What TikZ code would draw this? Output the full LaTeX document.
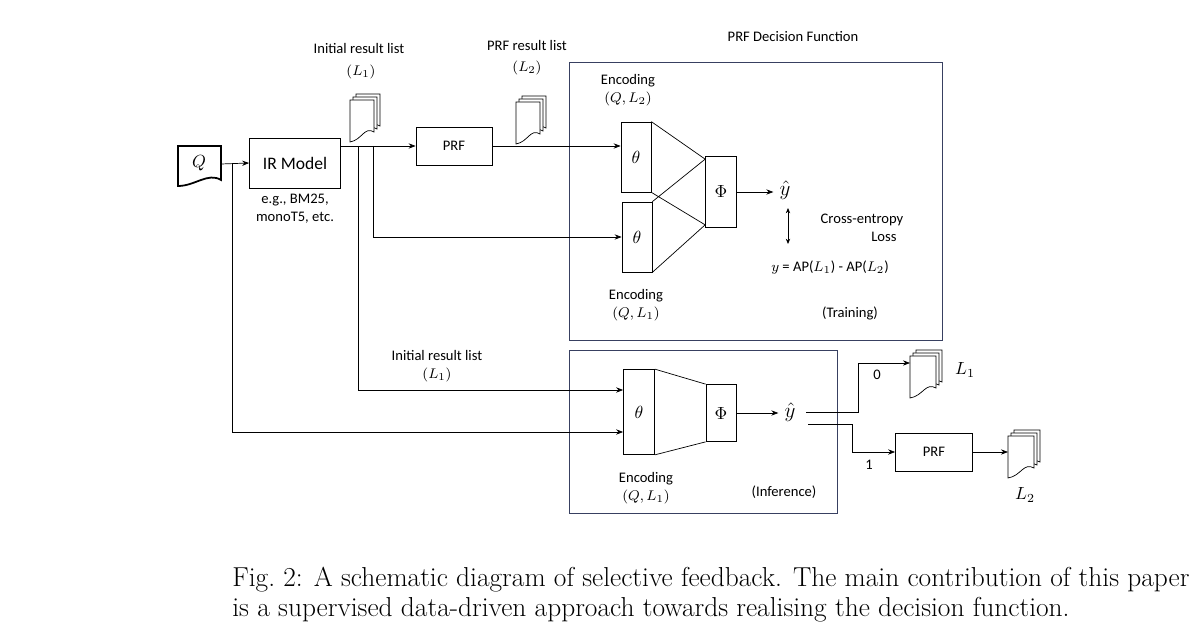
\documentclass[tikz,border=0pt]{standalone}
\usepackage{fontspec}
\setmainfont{Carlito}
\newfontfamily\capfont{Latin Modern Roman}
\usetikzlibrary{arrows.meta}
\definecolor{framecol}{rgb}{0.22,0.25,0.38}

% one page with a wavy bottom, top-left corner at (#2,#3), width #4
\newcommand{\docpage}[4][]{%
  \draw[fill=white,#1] (#2,#3) -- ++(#4,0) -- ++(0,32)
    .. controls +(-#4*0.4,-6) and +(#4*0.5,-2) .. ++(-#4,10) -- cycle;}
\newcommand{\docstack}[3]{%
  \docpage{#1+6}{#2-6}{#3}\docpage{#1+3}{#2-3}{#3}\docpage{#1}{#2}{#3}}

\begin{document}
\begin{tikzpicture}[x=0.02cm,y=-0.02cm,
  font=\fontsize{8.3}{10}\selectfont,
  arr/.style={-{Stealth[length=4pt,width=3pt]}},
  frame/.style={draw,color=framecol},
  lbl/.style={align=center,inner sep=1pt},
  sym/.style={font=\fontsize{10}{11}\selectfont}]
  \useasboundingbox (0,0) rectangle (1200,631);

  % input and first stage
  \draw[line width=1pt,fill=white] (178,146) -- (221,146) -- (221,180)
    .. controls (208,172) and (195,186) .. (178,186) -- cycle;
  \node[sym] (Q) at (199,163) {\(Q\)};
  \coordinate (Qr) at (221,164);
  \node[draw,minimum width=91*0.02cm,minimum height=50*0.02cm] (ir) at (295,163) {\fontsize{10}{11}\selectfont IR Model};
  \node[lbl,below=2pt] at (ir.south) {e.g., BM25,\\monoT5, etc.};
  \node[draw,minimum width=76*0.02cm,minimum height=38*0.02cm] (prf) at (454,146) {PRF};

  % result lists
  \docstack{350}{100}{24}
  \node[lbl] (init) at (359,48) {Initial result list};
  \node[lbl] at (361,72) {\((L_1)\)};
  \docstack{516}{102}{24}
  \node[lbl] (prfl) at (527,45) {PRF result list};
  \node[lbl] at (527,68) {\((L_2)\)};

  % training frame
  \draw[frame] (569,62) rectangle (942,340);
  \node[lbl] at (793,37) {PRF Decision Function};
  \node[draw,sym,minimum width=30*0.02cm,minimum height=70*0.02cm] (th1) at (636,157) {\(\theta\)};
  \node[draw,sym,minimum width=30*0.02cm,minimum height=70*0.02cm] (th2) at (637,237) {\(\theta\)};
  \node[draw,sym,minimum width=31*0.02cm,minimum height=71*0.02cm] (phi) at (721,192) {\(\Phi\)};
  \draw (th1.north east) -- ([yshift=-3*0.02cm]phi.north west)
        (th1.south east) -- ([yshift=3*0.02cm]phi.south west)
        (th2.north east) -- ([yshift=-3*0.02cm]phi.north west)
        (th2.south east) -- ([yshift=3*0.02cm]phi.south west);
  \node[font=\fontsize{12}{13}\selectfont] (yh1) at (785,190) {\(\hat y\)};
  \draw[arr] (phi.east) -- (phi.east -| yh1.west);
  \draw[{Stealth[length=3pt,width=2.5pt]}-{Stealth[length=3pt,width=2.5pt]}] (788,208) -- (788,244);
  \node[lbl] at (862,228) {Cross-entropy\\\hspace*{3em}Loss};
  \node[lbl] at (830,268) {\(y\) = AP(\(L_1\)) - AP(\(L_2\))};
  \node[lbl] at (850,313) {(Training)};
  \node[lbl] at (628,90) {Encoding\\\((Q,L_2)\)};
  \node[lbl] at (636,305) {Encoding\\\((Q,L_1)\)};

  % inference frame
  \draw[frame] (569,350) rectangle (837,513);
  \node[draw,sym,minimum width=31*0.02cm,minimum height=85*0.02cm] (th3) at (639,412) {\(\theta\)};
  \node[draw,sym,minimum width=30*0.02cm,minimum height=57*0.02cm] (phi2) at (721,413) {\(\Phi\)};
  \draw (th3.north east) -- (phi2.north west) (th3.south east) -- (phi2.south west);
  \node[font=\fontsize{12}{13}\selectfont] (yh2) at (790,412) {\(\hat y\)};
  \draw[arr] (phi2.east) -- (phi2.east -| yh2.west);
  \node[lbl] at (646,488) {Encoding\\\((Q,L_1)\)};
  \node[lbl] at (784,492) {(Inference)};
  \node[lbl] at (437,366) {Initial result list\\\((L_1)\)};

  % decision outputs
  \coordinate (o0) at (806,412);
  \coordinate (o1) at (808,424);
  \docstack{910}{356}{26}
  \coordinate (d1) at (910,363);
  \node[lbl,sym] at (965,370) {\(L_1\)};
  \node[lbl] at (877,375) {0};
  \node[draw,minimum width=77*0.02cm,minimum height=38*0.02cm] (prf2) at (934,452) {PRF};
  \node[lbl] at (869,465) {1};
  \docstack{1008}{436}{26}
  \coordinate (d2) at (1008,452);
  \node[lbl,sym] at (1025,495) {\(L_2\)};

  % connectors
  \draw[arr] (Qr) -- (ir.west);
  \draw[arr] (ir.east |- prf) -- (prf.west);
  \draw[arr] (prf.east) -- (th1.west |- prf.east);
  \draw[arr] (373,146) |- (th2.west);
  \draw[arr] (358,146) |- ([yshift=22*0.02cm]th3.west);
  \draw[arr] (232,164) |- ([yshift=-20*0.02cm]th3.west);
  \draw[arr] (o0) -- (858,412) |- (d1);
  \draw[arr] (o1) -- (852,424) |- (prf2.west);
  \draw[arr] (prf2.east) -- (d2);

  % caption
  \node[anchor=west,inner sep=0pt,font=\capfont\fontsize{15.6}{18}\selectfont] at (232,580)
    {Fig.~2: A schematic diagram of selective feedback. The main contribution of this paper};
  \node[anchor=west,inner sep=0pt,font=\capfont\fontsize{15.6}{18}\selectfont] at (232,610)
    {is a supervised data-driven approach towards realising the decision function.};
\end{tikzpicture}
\end{document}
